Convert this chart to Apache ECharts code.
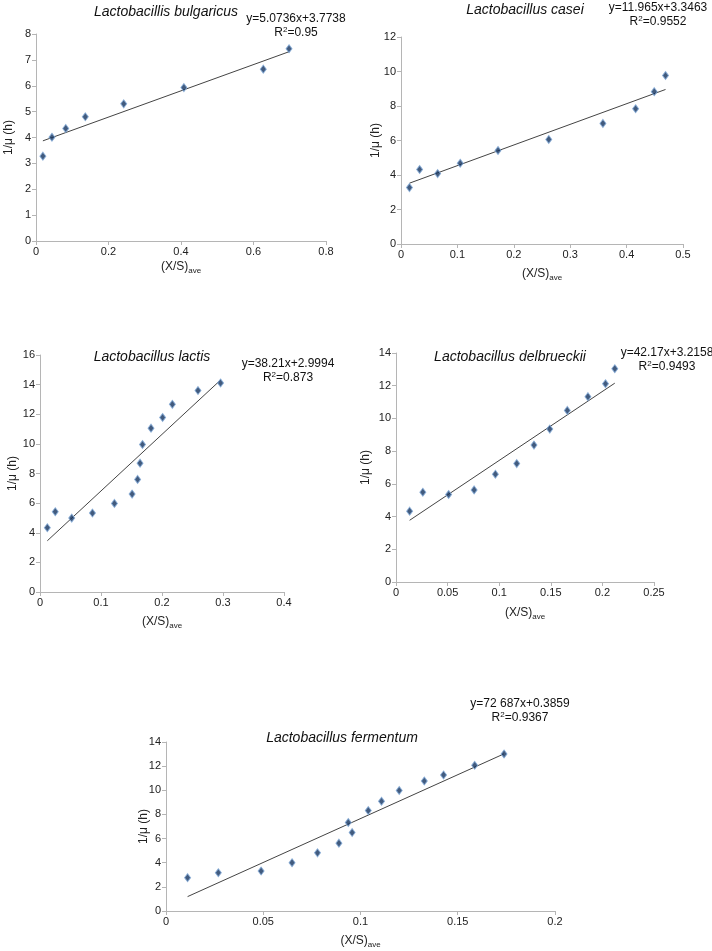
<!DOCTYPE html>
<html>
<head>
<meta charset="utf-8">
<script src="https://cdn.jsdelivr.net/npm/echarts@6/dist/echarts.min.js"></script>
<style>
html,body{margin:0;padding:0;background:#fff;}
#chart{width:712px;height:951px;}
</style>
</head>
<body>
<div id="chart"></div>
<script>
// ---- Data ----
var titles = ['Lactobacillis bulgaricus', 'Lactobacillus casei', 'Lactobacillus lactis', 'Lactobacillus delbrueckii', 'Lactobacillus fermentum'];
var equations = ['y=5.0736x+3.7738', 'y=11.965x+3.3463', 'y=38.21x+2.9994', 'y=42.17x+3.2158', 'y=72 687x+0.3859'];
var r2Labels = ['0.95', '0.9552', '0.873', '0.9493', '0.9367'];
var slopes = [5.0736, 11.965, 38.21, 42.17, 72.687];
var intercepts = [3.7738, 3.3463, 2.9994, 3.2158, 0.3859];

var bulgaricusX = [0.019, 0.044, 0.082, 0.136, 0.242, 0.408, 0.627, 0.698];
var bulgaricusY = [3.28, 4.01, 4.35, 4.80, 5.30, 5.93, 6.64, 7.43];

var caseiX = [0.015, 0.033, 0.065, 0.105, 0.172, 0.262, 0.358, 0.416, 0.449, 0.469];
var caseiY = [3.27, 4.32, 4.08, 4.68, 5.42, 6.06, 6.99, 7.84, 8.83, 9.77];

var lactisX = [0.012, 0.025, 0.052, 0.086, 0.122, 0.151, 0.160, 0.164, 0.168, 0.182, 0.201, 0.217, 0.259, 0.296];
var lactisY = [4.34, 5.42, 4.99, 5.33, 5.98, 6.61, 7.60, 8.70, 9.96, 11.06, 11.78, 12.67, 13.60, 14.11];

var delbrueckiiX = [0.0132, 0.026, 0.051, 0.0757, 0.0963, 0.117, 0.1337, 0.149, 0.166, 0.186, 0.203, 0.212];
var delbrueckiiY = [4.33, 5.49, 5.35, 5.63, 6.59, 7.24, 8.37, 9.35, 10.49, 11.33, 12.12, 13.04];

var fermentumX = [0.0111, 0.0269, 0.0489, 0.0648, 0.0779, 0.0889, 0.0937, 0.0957, 0.104, 0.1108, 0.1199, 0.1328, 0.1427, 0.1587, 0.1738];
var fermentumY = [2.76, 3.17, 3.31, 4.00, 4.82, 5.62, 7.33, 6.50, 8.32, 9.09, 9.98, 10.77, 11.27, 12.07, 13.01];

var xMax = [0.8, 0.5, 0.4, 0.25, 0.2];
var xInterval = [0.2, 0.1, 0.1, 0.05, 0.05];
var yMax = [8, 12, 16, 14, 14];
var yInterval = [1, 2, 2, 2, 2];

var seriesX = [bulgaricusX, caseiX, lactisX, delbrueckiiX, fermentumX];
var seriesY = [bulgaricusY, caseiY, lactisY, delbrueckiiY, fermentumY];

// ---- Layout ----
var FONT = 'Liberation Sans, Arial, Helvetica, sans-serif';
var grids = [
  {left: 36, top: 34, width: 290, height: 207},
  {left: 401, top: 37, width: 282, height: 207},
  {left: 40, top: 355, width: 244, height: 237},
  {left: 396, top: 353, width: 258, height: 229},
  {left: 166, top: 742, width: 389, height: 169}
];
var yNameGap = [21, 19, 21, 24, 16];
var xNameGap = [18, 22, 22, 23, 22];
var titlePos = [[166, 12], [525, 10], [152, 357], [510, 357], [342, 738]];
var eqPos = [[296, 26], [658, 15], [288, 371], [667, 360], [520, 711]];

var chart = echarts.init(document.getElementById('chart'));

var xAxes = [], yAxes = [], series = [], graphics = [];
for (var i = 0; i < 5; i++) {
  xAxes.push({
    type: 'value', gridIndex: i, min: 0, max: xMax[i], interval: xInterval[i],
    splitLine: {show: false},
    axisLine: {show: true, lineStyle: {color: '#b5b5b5', width: 1}},
    axisTick: {show: true, length: 4, lineStyle: {color: '#b5b5b5'}},
    axisLabel: {color: '#222', fontSize: 11, fontFamily: FONT, margin: 5},
    name: '(X/S){sub|ave}', nameLocation: 'middle', nameGap: xNameGap[i], nameMoveOverlap: false,
    nameTextStyle: {
      color: '#222', fontSize: 12, fontFamily: FONT, lineHeight: 16, verticalAlign: 'top',
      rich: {sub: {fontSize: 8, fontFamily: FONT, color: '#222', lineHeight: 8, verticalAlign: 'bottom'}}
    }
  });
  yAxes.push({
    type: 'value', gridIndex: i, min: 0, max: yMax[i], interval: yInterval[i],
    splitLine: {show: false},
    axisLine: {show: true, lineStyle: {color: '#b5b5b5', width: 1}},
    axisTick: {show: true, length: 4, lineStyle: {color: '#b5b5b5'}},
    axisLabel: {color: '#222', fontSize: 11, fontFamily: FONT, margin: 5},
    name: '1/\u03bc (h)', nameLocation: 'middle', nameRotate: 90, nameGap: yNameGap[i], nameMoveOverlap: false,
    nameTextStyle: {color: '#222', fontSize: 12, fontFamily: FONT}
  });
  var pts = seriesX[i].map(function (x, k) { return [x, seriesY[i][k]]; });
  var xs = seriesX[i];
  var x0 = Math.min.apply(null, xs), x1 = Math.max.apply(null, xs);
  series.push({
    type: 'line', xAxisIndex: i, yAxisIndex: i, showSymbol: false, silent: true,
    data: [[x0, slopes[i] * x0 + intercepts[i]], [x1, slopes[i] * x1 + intercepts[i]]],
    lineStyle: {color: '#444', width: 1}, z: 2
  });
  series.push({
    type: 'scatter', xAxisIndex: i, yAxisIndex: i, data: pts,
    symbol: 'diamond', symbolSize: [6, 8],
    itemStyle: {color: '#13325e', borderColor: '#7fa7d6', borderWidth: 1},
    z: 3
  });
  graphics.push({
    type: 'text', x: titlePos[i][0], y: titlePos[i][1],
    style: {text: titles[i], font: 'italic 14px ' + FONT, fill: '#111', align: 'center', verticalAlign: 'middle'}
  });
  graphics.push({
    type: 'text', x: eqPos[i][0], y: eqPos[i][1],
    style: {
      text: '{a|' + equations[i] + '}\n{a|R}{sup|2}{a|=' + r2Labels[i] + '}',
      align: 'center', verticalAlign: 'middle', fill: '#111',
      rich: {
        a: {fontSize: 12, fontFamily: FONT, lineHeight: 14, fill: '#111'},
        sup: {fontSize: 8, fontFamily: FONT, lineHeight: 8, verticalAlign: 'top', fill: '#111'}
      }
    }
  });
}

chart.setOption({
  backgroundColor: '#ffffff',
  animation: false,
  grid: grids,
  xAxis: xAxes,
  yAxis: yAxes,
  series: series,
  graphic: graphics
});
</script>
</body>
</html>
